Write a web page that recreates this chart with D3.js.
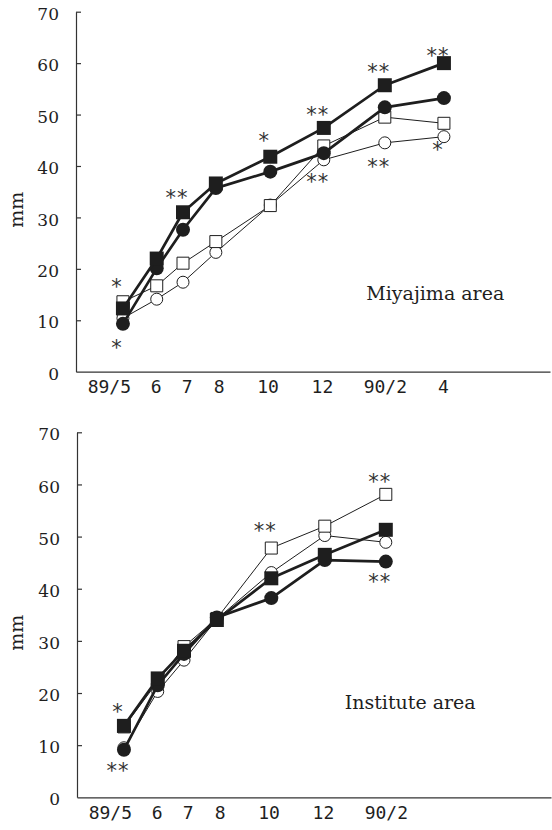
<!DOCTYPE html>
<html>
<head>
<meta charset="utf-8">
<script src="https://cdn.jsdelivr.net/npm/d3@7"></script>
<style>
  body { margin: 0; background: #fff; }
</style>
</head>
<body>
<svg id="chart" width="552" height="830"></svg>
<script>
// ---- data ----
const SAMPLE_DATES = ['1989-05-15', '1989-06-20', '1989-07-18', '1989-08-22',
                      '1989-10-19', '1989-12-15', '1990-02-18', '1990-04-22'];
const TICK_DATES   = ['1989-04-30', '1989-06-19', '1989-07-22', '1989-08-25',
                      '1989-10-16', '1989-12-13', '1990-02-18', '1990-04-21'];
const TICK_LABELS  = ['89/5', '6', '7', '8', '10', '12', '90/2', '4'];
const Y_TICKS = [0, 10, 20, 30, 40, 50, 60, 70];

// Miyajima area
const MIYA_FILLED_SQ = [12.3, 22.0, 31.0, 36.6, 41.8, 47.4, 55.7, 60.0];
const MIYA_FILLED_CI = [9.3, 20.1, 27.6, 35.7, 38.9, 42.5, 51.4, 53.2];
const MIYA_OPEN_SQ   = [13.6, 16.7, 21.1, 25.3, 32.3, 43.9, 49.5, 48.3];
const MIYA_OPEN_CI   = [10.4, 14.1, 17.4, 23.2, 32.4, 41.2, 44.5, 45.7];
// significance marks: [sample index, mm, text]
const MIYA_SIG = [
  [0, 17.4, '*'], [0, 5.7, '*'], [2, 34.8, '**'], [4, 45.8, '*'],
  [5, 50.9, '**'], [5, 37.9, '**'], [6, 59.3, '**'], [6, 40.8, '**'],
  [7, 62.4, '**'], [7, 44.1, '*']
];

// Institute area
const INST_FILLED_SQ = [13.7, 22.8, 28.1, 34.0, 42.0, 46.5, 51.3];
const INST_FILLED_CI = [9.1, 21.5, 27.5, 34.5, 38.2, 45.5, 45.2];
const INST_OPEN_SQ   = [13.5, 22.2, 28.9, 34.3, 47.8, 52.0, 58.1];
const INST_OPEN_CI   = [9.5, 20.3, 26.3, 34.2, 43.1, 50.2, 48.9];
const INST_SIG = [
  [0, 17.3, '*'], [0, 6.1, '**'], [4, 52.1, '**'], [6, 61.4, '**'], [6, 42.3, '**']
];

// ---- layout ----
const INK = '#1e1e1e';
const parse = d3.timeParse('%Y-%m-%d');
const dates = SAMPLE_DATES.map(parse);
const tickDates = TICK_DATES.map(parse);
const STAR_FS = 21;

const PANELS = [
  { name: 'Miyajima area', left: 76, top: 11.7, bottom: 371.7, labelX: 0.758, labelY: 0.199,
    series: [
      { vals: MIYA_OPEN_CI, shape: 'circle', filled: false },
      { vals: MIYA_OPEN_SQ, shape: 'square', filled: false },
      { vals: MIYA_FILLED_CI, shape: 'circle', filled: true },
      { vals: MIYA_FILLED_SQ, shape: 'square', filled: true }
    ],
    sig: MIYA_SIG, ticks: 8 },
  { name: 'Institute area', left: 77, top: 432.3, bottom: 797.3, labelX: 0.703, labelY: 0.242,
    series: [
      { vals: INST_OPEN_CI, shape: 'circle', filled: false },
      { vals: INST_OPEN_SQ, shape: 'square', filled: false },
      { vals: INST_FILLED_CI, shape: 'circle', filled: true },
      { vals: INST_FILLED_SQ, shape: 'square', filled: true }
    ],
    sig: INST_SIG, ticks: 7 }
];

const svg = d3.select('#chart');

PANELS.forEach(p => {
  const x = d3.scaleTime()
    .domain([parse('1989-03-26'), parse('1990-08-13')])
    .range([p.left, p.left + 474]);
  const y = d3.scaleLinear().domain([0, 70]).range([p.bottom, p.top]);

  const g = svg.append('g');

  // y axis (ticks point inward)
  g.append('g').attr('transform', `translate(${p.left},0)`)
    .call(d3.axisLeft(y).tickValues(Y_TICKS).tickSizeInner(-5).tickSizeOuter(0).tickPadding(17))
    .call(a => a.select('.domain').attr('stroke', '#333').attr('stroke-width', 1.2))
    .call(a => a.selectAll('line').attr('stroke', '#333').attr('stroke-width', 1.2))
    .call(a => a.selectAll('text')
      .attr('font-family', 'DejaVu Serif, serif').attr('font-size', 17)
      .attr('fill', INK).attr('dy', '0.45em'))
    .call(a => a.selectAll('.tick').filter(d => d === 0).select('line').remove());

  // x axis
  g.append('g').attr('transform', `translate(0,${p.bottom})`)
    .call(d3.axisBottom(x)
      .tickValues(tickDates.slice(0, p.ticks))
      .tickFormat((d, i) => TICK_LABELS[i])
      .tickSize(0).tickPadding(9))
    .call(a => a.select('.domain').attr('stroke', '#333').attr('stroke-width', 1.2))
    .call(a => a.selectAll('text')
      .attr('font-family', 'DejaVu Sans Mono, monospace').attr('font-size', 18)
      .attr('fill', INK));

  // axis title
  g.append('text')
    .attr('transform', `translate(23,${(p.top + p.bottom) / 2 + 18}) rotate(-90)`)
    .attr('text-anchor', 'middle')
    .attr('font-family', 'DejaVu Serif, serif').attr('font-size', 19)
    .attr('fill', INK)
    .text('mm');

  // series
  p.series.forEach(s => {
    const pts = s.vals.map((v, i) => ({ d: dates[i], v }));
    const thick = s.filled;
    g.append('path')
      .datum(pts)
      .attr('fill', 'none')
      .attr('stroke', INK)
      .attr('stroke-width', thick ? 2.7 : 1)
      .attr('stroke-linejoin', 'round')
      .attr('d', d3.line().x(d => x(d.d)).y(d => y(d.v)));

    const size = s.filled ? 14 : 12;
    const sym = d3.symbol()
      .type(s.shape === 'square' ? d3.symbolSquare : d3.symbolCircle)
      .size(s.shape === 'square' ? size * size : Math.PI * (size / 2) * (size / 2));
    g.append('g').selectAll('path')
      .data(pts).join('path')
      .attr('transform', d => `translate(${x(d.d)},${y(d.v)})`)
      .attr('d', sym)
      .attr('fill', s.filled ? INK : '#fff')
      .attr('stroke', INK)
      .attr('stroke-width', s.filled ? 0 : 1);
  });

  // significance marks
  g.append('g').selectAll('text')
    .data(p.sig).join('text')
    .attr('x', d => x(dates[d[0]]) - 6)
    .attr('y', d => y(d[1]) + STAR_FS * 0.58)
    .attr('text-anchor', 'middle')
    .attr('font-family', 'DejaVu Sans, sans-serif').attr('font-size', STAR_FS)
    .attr('letter-spacing', 1)
    .attr('fill', '#333')
    .text(d => d[2]);

  // area label
  g.append('text')
    .attr('x', p.left + p.labelX * 474)
    .attr('y', p.bottom - p.labelY * (p.bottom - p.top))
    .attr('text-anchor', 'middle')
    .attr('font-family', 'DejaVu Serif, serif').attr('font-size', 19)
    .attr('fill', INK)
    .text(p.name);
});
</script>
</body>
</html>
